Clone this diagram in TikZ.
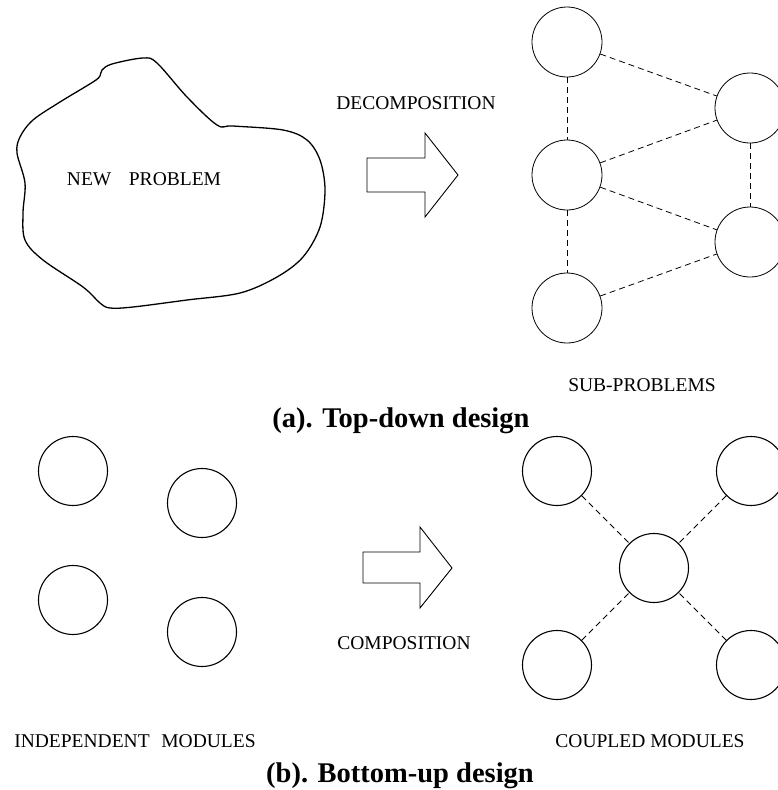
\documentclass[tikz,border=0pt]{standalone}
\usepackage{fontspec}
\setmainfont{Liberation Serif}
\begin{document}
\begin{tikzpicture}[x=1pt,y=-1pt,
  mod/.style={draw,circle,minimum size=69pt,inner sep=0pt,line width=1.1pt},
  sub/.style={draw,circle,minimum size=70pt,inner sep=0pt,line width=0.8pt},
  link/.style={dashed,dash pattern=on 6pt off 4pt,line width=0.8pt},
  blink/.style={link,line width=1pt},
  bigarrow/.style={draw,line width=0.9pt},
  lbl/.style={font=\fontsize{19.5}{22}\selectfont,inner sep=0pt},
  ttl/.style={font=\fontsize{28.5}{32}\selectfont\bfseries,inner sep=0pt,anchor=base}]
\useasboundingbox (0,0) rectangle (778,790);
\clip (0,0) rectangle (778,790);
% ---------- (a) top-down ----------
\draw[line width=1.3pt] plot[smooth cycle,tension=0.55] coordinates {
 (102,70) (112,64) (143,58) (157,63) (187,97) (217,125) (233,126)
 (283,130) (307,140) (320,160) (325,190) (320,227) (303,257) (277,277)
 (240,293) (187,300) (133,307) (110,308) (100,303) (83,287) (43,260)
 (25,240) (23,213) (25,183) (17,153) (20,137) (33,120) (60,102) (93,82) (100,76)};
\node[lbl] (np) at (144,179) {NEW\hspace{0.9em}PROBLEM};
\node[lbl] (dec) at (416,103) {DECOMPOSITION};
\draw[bigarrow] (367,158) -- (425,158) -- (425,133) -- (458,175) -- (425,217) -- (425,192) -- (367,192) -- cycle;
\node[sub] (c1) at (567,42) {};
\node[sub] (c2) at (567,175) {};
\node[sub] (c3) at (567,308) {};
\node[sub] (c4) at (750,108) {};
\node[sub] (c5) at (750,242) {};
\draw[link] (c1) -- (c2);
\draw[link] (c2) -- (c3);
\draw[link] (c1) -- (c4);
\draw[link] (c2) -- (c4);
\draw[link] (c2) -- (c5);
\draw[link] (c3) -- (c5);
\draw[link] (c4) -- (c5);
\node[lbl] (sp) at (642,385) {SUB-PROBLEMS};
\node[ttl] (ta) at (401,427) {(a). Top-down design};
% ---------- (b) bottom-up ----------
\node[mod] (i1) at (73,471) {};
\node[mod] (i2) at (202,503) {};
\node[mod] (i3) at (73,600) {};
\node[mod] (i4) at (202,632) {};
\node[lbl] (im) at (135,741) {INDEPENDENT\hspace{0.6em}MODULES};
\draw[bigarrow] (363,552) -- (420,552) -- (420,527) -- (452,568) -- (420,608) -- (420,583) -- (363,583) -- cycle;
\node[lbl] (cp) at (404,643) {COMPOSITION};
\node[mod] (k1) at (557,471) {};
\node[mod] (k2) at (751,471) {};
\node[mod] (k3) at (654,568) {};
\node[mod] (k4) at (557,665) {};
\node[mod] (k5) at (751,665) {};
\draw[blink] (k1) -- (k3);
\draw[blink] (k2) -- (k3);
\draw[blink] (k4) -- (k3);
\draw[blink] (k5) -- (k3);
\node[lbl] (cm) at (650,741) {COUPLED MODULES};
\node[ttl] (tb) at (400,782) {(b). Bottom-up design};
\end{tikzpicture}
\end{document}
